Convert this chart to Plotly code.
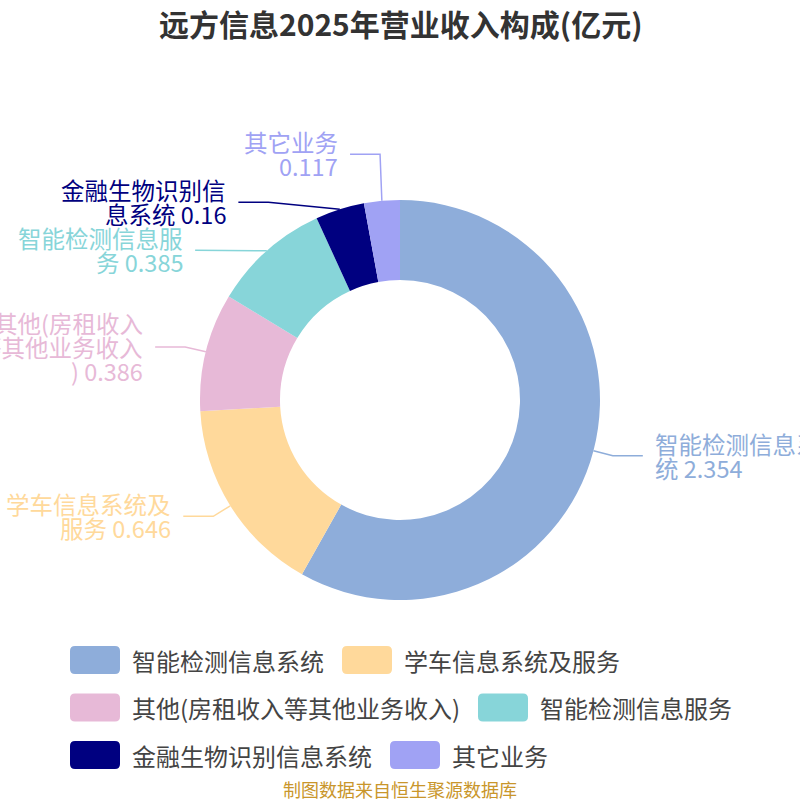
import math
import plotly.graph_objects as go

# data
names = ["智能检测信息系统", "学车信息系统及服务", "其他(房租收入等其他业务收入)",
         "智能检测信息服务", "金融生物识别信息系统", "其它业务"]
values = [2.354, 0.646, 0.386, 0.385, 0.16, 0.117]
colors = ["#8EADDA", "#FFD99B", "#E7B9D7", "#87D5D9", "#000080", "#A0A2F4"]
# where each outside label wraps (char index into "name value")
label_breaks = [[7], [7], [7, 14], [7], [7], [4]]
title = "远方信息2025年营业收入构成(亿元)"
source = "制图数据来自恒生聚源数据库"

FONT = "Noto Sans CJK SC"
cx, cy, R = 400, 400, 200      # pie centre / outer radius in px
len1, len2, gap, lh = 20, 30, 10, 24   # label line lengths, text gap, line height


def split_label(s, breaks):
    out, last = [], 0
    for b in breaks + [len(s)]:
        out.append(s[last:b].strip())
        last = b
    return out


# label positions, computed from the slice angles
total = sum(values)
items = []
acc = 0
for i, v in enumerate(values):
    mid = (acc + v / 2) / total * 2 * math.pi
    acc += v
    s, c = math.sin(mid), math.cos(mid)
    lines = split_label(f"{names[i]} {values[i]}", label_breaks[i])
    items.append(dict(i=i, ex=cx + R * s, ey=cy - R * c,
                      bx=cx + (R + len1) * s, by=cy - (R + len1) * c,
                      dir=1 if s >= 0 else -1, h=len(lines) * lh, lines=lines))
for it in items:
    it["y"] = it["by"]


def place(group):
    hs = sum(t["h"] for t in group)
    top = sum(t["by"] for t in group) / len(group) - hs / 2
    for t in group:
        t["y"] = top + t["h"] / 2
        top += t["h"]
    return group


# push overlapping labels apart, then put the elbows on an ellipse (like echarts)
for d in (1, -1):
    side = sorted([t for t in items if t["dir"] == d], key=lambda t: t["by"])
    groups = []
    for t in side:
        groups.append(place([t]))
        while len(groups) > 1 and (groups[-2][-1]["y"] + groups[-2][-1]["h"] / 2
                                   > groups[-1][0]["y"] - groups[-1][0]["h"] / 2):
            g = groups.pop()
            groups[-1] = place(groups[-1] + g)
    if any(abs(t["y"] - t["by"]) > 0.5 for t in side):
        rA = R + len1
        for semi in ([t for t in side if t["y"] < cy], [t for t in side if t["y"] >= cy]):
            if not semi:
                continue
            far = max(semi, key=lambda t: abs(t["y"] - cy))
            dy = abs(far["y"] - cy)
            dx = far["bx"] - cx
            rB = dy / math.sqrt(1 - dx * dx / rA / rA) if abs(dx) < rA else rA
            for t in semi:
                k = 1 - (t["y"] - cy) ** 2 / rB ** 2
                t["bx"] = cx + d * math.sqrt(max(k, 0)) * rA

fig = go.Figure()

fig.add_trace(go.Pie(
    values=values, labels=names, sort=False, direction="clockwise", rotation=0,
    hole=0.6, textinfo="none", showlegend=False,
    marker=dict(colors=colors, line=dict(width=0)),
    domain=dict(x=[0.25, 0.75], y=[0.25, 0.75]),
))

annotations = []
for t in items:
    col = colors[t["i"]]
    d = t["dir"]
    fig.add_trace(go.Scatter(
        x=[t["ex"], t["bx"], t["bx"] + d * len2], y=[t["ey"], t["y"], t["y"]],
        mode="lines", line=dict(color=col, width=1.5), hoverinfo="skip", showlegend=False))
    n = len(t["lines"])
    for j, ln in enumerate(t["lines"]):
        annotations.append(dict(
            x=t["bx"] + d * (len2 + gap), y=t["y"] + (j - (n - 1) / 2) * lh,
            xref="x", yref="y", text=ln, showarrow=False,
            xanchor="left" if d > 0 else "right", yanchor="middle",
            font=dict(family=FONT, size=23.5, color=col)))

# legend (echarts style: big rounded swatches, rows left aligned)
shapes = []


def text_w(s):
    return sum(24 if ord(ch) > 0x2E80 else 8 if ch in "()" else 13 for ch in s)


lx0, lmax, ly0, lstep = 70, 730, 660, 47.5
x, row = lx0, 0
for i, name in enumerate(names):
    w = 60 + text_w(name)
    if x + w > lmax and x > lx0:
        row += 1
        x = lx0
    yc = ly0 + row * lstep
    x0, x1, y0, y1, r = x, x + 50, yc - 14, yc + 14, 5
    path = (f"M{x0 + r},{y0} L{x1 - r},{y0} Q{x1},{y0} {x1},{y0 + r} "
            f"L{x1},{y1 - r} Q{x1},{y1} {x1 - r},{y1} L{x0 + r},{y1} "
            f"Q{x0},{y1} {x0},{y1 - r} L{x0},{y0 + r} Q{x0},{y0} {x0 + r},{y0} Z")
    shapes.append(dict(type="path", path=path, xref="x", yref="y",
                       fillcolor=colors[i], line=dict(width=0)))
    annotations.append(dict(x=x + 60, y=yc, xref="x", yref="y", text=name, showarrow=False,
                            xanchor="left", yanchor="middle",
                            font=dict(family=FONT, size=24, color="#444")))
    x += w + 20

annotations.append(dict(x=400, y=23, xref="x", yref="y", text=f"<b>{title}</b>",
                        showarrow=False, xanchor="center", yanchor="middle",
                        font=dict(family=FONT, size=30, color="#333")))
annotations.append(dict(x=400, y=789, xref="x", yref="y", text=source,
                        showarrow=False, xanchor="center", yanchor="middle",
                        font=dict(family=FONT, size=18, color="#C9962B")))

fig.update_layout(
    width=800, height=800, margin=dict(l=0, r=0, t=0, b=0),
    paper_bgcolor="white", plot_bgcolor="white", showlegend=False,
    xaxis=dict(range=[0, 800], visible=False, fixedrange=True),
    yaxis=dict(range=[800, 0], visible=False, fixedrange=True),
    annotations=annotations, shapes=shapes,
)

# body margin would push the 800px figure off the window
fig.write_html("out.html", config={"displayModeBar": False},
               post_script="document.body.style.margin='0';")
